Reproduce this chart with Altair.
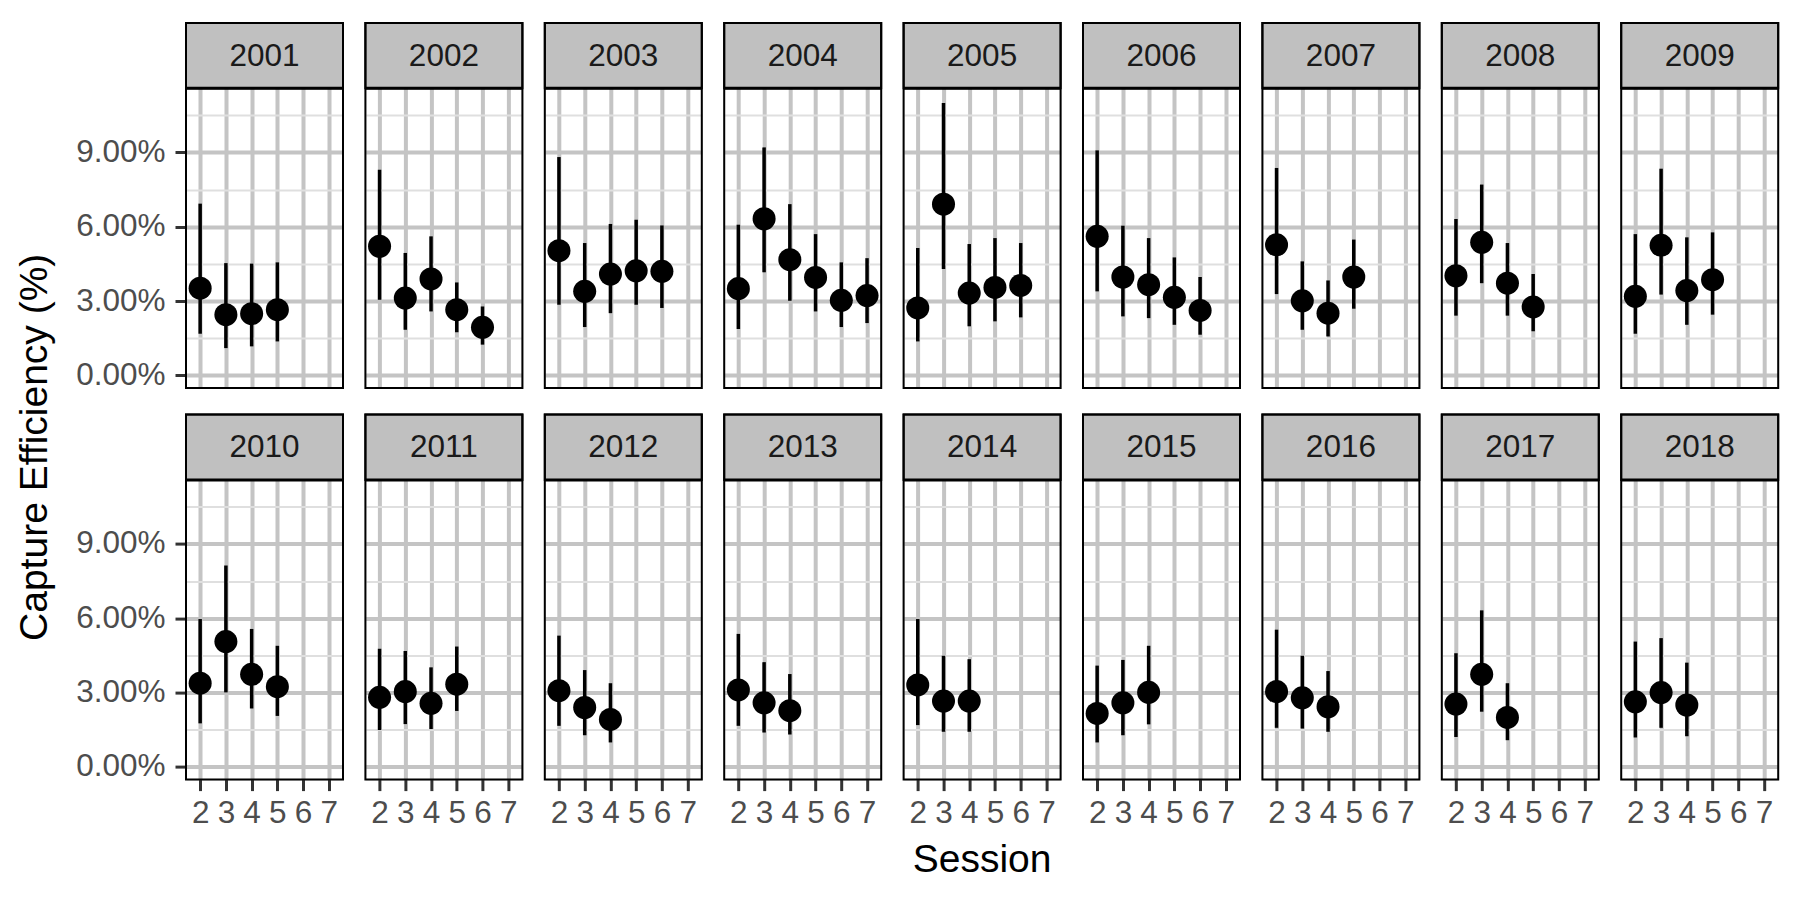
import altair as alt
import pandas as pd

FONT = "Liberation Sans"

years = list(range(2001, 2019))

est = {
    2001: [3.52, 2.45, 2.49, 2.65],
    2002: [5.21, 3.12, 3.89, 2.65, 1.94],
    2003: [5.03, 3.39, 4.09, 4.22, 4.20],
    2004: [3.50, 6.32, 4.67, 3.95, 3.03, 3.22],
    2005: [2.72, 6.91, 3.32, 3.55, 3.63],
    2006: [5.61, 3.97, 3.66, 3.15, 2.62],
    2007: [5.27, 3.01, 2.51, 3.97],
    2008: [4.02, 5.37, 3.72, 2.76],
    2009: [3.19, 5.25, 3.42, 3.86],
    2010: [3.38, 5.06, 3.74, 3.24],
    2011: [2.81, 3.04, 2.57, 3.34],
    2012: [3.08, 2.40, 1.92],
    2013: [3.11, 2.59, 2.27],
    2014: [3.31, 2.66, 2.66],
    2015: [2.16, 2.59, 3.01],
    2016: [3.04, 2.79, 2.43],
    2017: [2.54, 3.74, 2.00],
    2018: [2.63, 3.00, 2.50],
}
lo = {
    2001: [1.68, 1.10, 1.17, 1.37],
    2002: [3.05, 1.84, 2.58, 1.74, 1.24],
    2003: [2.85, 1.95, 2.51, 2.85, 2.72],
    2004: [1.87, 4.16, 3.01, 2.58, 1.95, 2.11],
    2005: [1.37, 4.29, 1.98, 2.18, 2.34],
    2006: [3.39, 2.38, 2.31, 2.04, 1.64],
    2007: [3.28, 1.84, 1.57, 2.69],
    2008: [2.41, 3.72, 2.41, 1.78],
    2009: [1.68, 3.26, 2.04, 2.45],
    2010: [1.76, 3.01, 2.36, 2.06],
    2011: [1.49, 1.73, 1.53, 2.26],
    2012: [1.66, 1.28, 0.99],
    2013: [1.66, 1.39, 1.31],
    2014: [1.69, 1.42, 1.42],
    2015: [0.99, 1.28, 1.72],
    2016: [1.58, 1.55, 1.42],
    2017: [1.21, 2.23, 1.08],
    2018: [1.19, 1.58, 1.24],
}
hi = {
    2001: [6.93, 4.53, 4.51, 4.56],
    2002: [8.30, 4.94, 5.61, 3.75, 2.78],
    2003: [8.81, 5.34, 6.11, 6.28, 6.05],
    2004: [6.08, 9.20, 6.91, 5.70, 4.56, 4.73],
    2005: [5.14, 10.99, 5.30, 5.54, 5.34],
    2006: [9.08, 6.04, 5.54, 4.76, 3.97],
    2007: [8.37, 4.60, 3.83, 5.48],
    2008: [6.31, 7.70, 5.34, 4.09],
    2009: [5.70, 8.34, 5.57, 5.77],
    2010: [5.97, 8.13, 5.57, 4.89],
    2011: [4.77, 4.68, 4.02, 4.86],
    2012: [5.30, 3.91, 3.38],
    2013: [5.37, 4.23, 3.75],
    2014: [5.97, 4.49, 4.35],
    2015: [4.09, 4.32, 4.89],
    2016: [5.54, 4.49, 3.87],
    2017: [4.59, 6.32, 3.38],
    2018: [5.06, 5.20, 4.21],
}
session_ticks = [2, 3, 4, 5, 6, 7]
y_ticks = [0, 1.5, 3, 4.5, 6, 7.5, 9, 10.5]
x_title = "Session"
y_title = "Capture Efficiency (%)"

rows = []
for yr in years:
    for i, e in enumerate(est[yr]):
        rows.append({"year": str(yr), "session": 2 + i, "est": e,
                     "lo": lo[yr][i], "hi": hi[yr][i]})
df = pd.DataFrame(rows)

W, H, STRIP = 157, 365, 65.3
MAJ, MIN = "#C4C4C4", "#DFDFDF"
ROW1_TOP, ROW2_TOP = 21.7, 409.3

xs = alt.Scale(domain=[1.45, 7.55], nice=False, zero=False)
ys = alt.Scale(domain=[-0.51, 14.22], nice=False, zero=False)

major = "datum.value % 3 === 0"


def x_axis(show):
    return alt.Axis(values=session_ticks, title=None, grid=True, gridColor=MAJ, gridWidth=4,
                    domain=False, ticks=show, labels=show, tickColor="#333333", tickWidth=3,
                    tickSize=11, labelFontSize=31.5, labelColor="#4D4D4D", labelPadding=7,
                    labelFont=FONT, labelFlush=False, format="d")


def y_axis(show):
    return alt.Axis(values=y_ticks, title=None, grid=True,
                    gridColor={"condition": {"test": major, "value": MAJ}, "value": MIN},
                    gridWidth={"condition": {"test": major, "value": 4}, "value": 2},
                    tickOpacity={"condition": {"test": major, "value": 1}, "value": 0},
                    labelExpr="datum.value % 3 === 0 ? format(datum.value, '.2f') + '%' : ''",
                    domain=False, ticks=show, labels=show, tickColor="#333333", tickWidth=3,
                    tickSize=11, labelFontSize=31.5, labelColor="#4D4D4D", labelPadding=10,
                    labelFont=FONT)


def panel(yr, first_col, bottom_row):
    d = df[df.year == str(yr)]
    lab = pd.DataFrame({"year": [str(yr)]})
    xa, ya = x_axis(bottom_row), y_axis(first_col)
    bars = alt.Chart(d).mark_rule(color="black", strokeWidth=3.5).encode(
        x=alt.X("session:Q", scale=xs, axis=xa),
        y=alt.Y("lo:Q", scale=ys, axis=ya),
        y2="hi:Q",
    )
    points = alt.Chart(d).mark_point(filled=True, shape="circle", size=530,
                                     color="black", opacity=1).encode(
        x=alt.X("session:Q", scale=xs, axis=xa),
        y=alt.Y("est:Q", scale=ys, axis=ya),
    )
    strip = alt.Chart(lab).mark_rect(fill="#C0C0C0", stroke="black", strokeWidth=2).encode(
        x=alt.value(0), x2=alt.value(W), y=alt.value(0), y2=alt.value(STRIP))
    sep = alt.Chart(lab).mark_rule(color="black", strokeWidth=3).encode(
        x=alt.value(0), x2=alt.value(W), y=alt.value(STRIP))
    strip_text = alt.Chart(lab).mark_text(font=FONT, fontSize=31.5, color="#1A1A1A",
                                          align="center", baseline="middle").encode(
        x=alt.value(W / 2), y=alt.value(STRIP / 2 + 1), text="year:N")
    border = alt.Chart(lab).mark_rect(filled=False, stroke="black", strokeWidth=2).encode(
        x=alt.value(0), x2=alt.value(W), y=alt.value(0), y2=alt.value(H))
    layers = [bars, points, strip, sep, strip_text, border]
    if yr == 2014:
        layers.append(alt.Chart(pd.DataFrame({"t": [x_title]})).mark_text(
            font=FONT, fontSize=39, color="black", align="center",
            baseline="middle").encode(
            x=alt.value(W / 2), y=alt.value(855 - ROW2_TOP), text="t:N"))
    return alt.layer(*layers).properties(width=W, height=H)


top = alt.hconcat(*[panel(y, i == 0, False) for i, y in enumerate(years[:9])],
                  spacing=22.4, bounds="flush")
bottom = alt.hconcat(*[panel(y, i == 0, True) for i, y in enumerate(years[9:])],
                     spacing=22.4, bounds="flush")
grid = alt.vconcat(top, bottom, spacing=20.6)

ytitle = alt.Chart(pd.DataFrame({"t": [y_title]})).mark_text(
    font=FONT, fontSize=39, color="black", angle=270, align="center", baseline="middle"
).encode(x=alt.value(0), y=alt.value(446 - ROW1_TOP), text="t:N").properties(
    width=1, height=1,
    view=alt.ViewBackground(stroke="transparent", strokeWidth=0, fill="transparent"),
)

chart = alt.hconcat(ytitle, grid, spacing=19).configure_view(
    stroke="transparent", strokeWidth=0, fill="transparent"
).configure(padding={"left": 7, "top": 13, "right": 5, "bottom": 5}, background="white")

chart.save("out.html", embed_options={"renderer": "svg", "actions": False})
